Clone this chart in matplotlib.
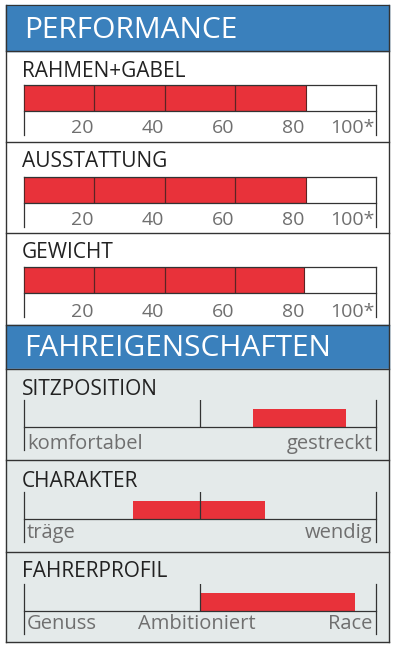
import matplotlib
matplotlib.use("Agg")
import matplotlib.pyplot as plt
from matplotlib.patches import Rectangle
from matplotlib import transforms

# --- data ---
perf_labels = ["RAHMEN+GABEL", "AUSSTATTUNG", "GEWICHT"]
perf_values = [80, 80, 79.5]
perf_ticks = [20, 40, 60, 80, 100]
perf_tick_labels = ["20", "40", "60", "80", "100*"]

fahr_labels = ["SITZPOSITION", "CHARAKTER", "FAHRERPROFIL"]
fahr_start = [65, 31, 50]
fahr_end = [91.5, 68.5, 94]
fahr_scale = [["komfortabel", "gestreckt"],
              ["träge", "wendig"],
              ["Genuss", "Ambitioniert", "Race"]]

BLUE = "#3a80bc"
RED = "#e8323a"
DIV = "#5a2424"
LINE = "#333333"
GRAY = "#6f6f6f"
BG = "#e4eaea"
FONT = "Open Sans"

W, H = 395, 645
fig = plt.figure(figsize=(W / 100, H / 100), dpi=100)
bg = fig.add_axes([0, 0, 1, 1])
bg.set_xlim(0, W)
bg.set_ylim(H, 0)
bg.axis("off")


def px_axes(x, y, w, h):
    return fig.add_axes([x / W, 1 - (y + h) / H, w / W, h / H])


X0, X1 = 24, 376

# frame, headers, background
bg.add_patch(Rectangle((6, 5), 383, 46, color=BLUE, zorder=0))
bg.add_patch(Rectangle((6, 325), 383, 44, color=BLUE, zorder=0))
bg.add_patch(Rectangle((6, 369), 383, 273, color=BG, zorder=0))
for y in [51, 142, 233, 325, 369, 460, 552, 642]:
    bg.plot([6, 389], [y, y], color=LINE, lw=1)
bg.plot([6, 6], [5, 642], color=LINE, lw=1)
bg.plot([389, 389], [5, 642], color=LINE, lw=1)
bg.plot([6, 389], [5, 5], color=LINE, lw=0.8)

bg.text(24, 38, "PERFORMANCE", color="white", fontsize=21.5, family=FONT, va="baseline")
bg.text(24, 356, "FAHREIGENSCHAFTEN", color="white", fontsize=21.5, family=FONT, va="baseline")

# performance rows
perf_title_y = [77, 167, 258]
perf_bar_top = [85, 177, 267]
perf_label_y = [133, 225, 317]
for i, lab in enumerate(perf_labels):
    bg.text(22, perf_title_y[i], lab, color="#222222", fontsize=15, family=FONT, va="baseline")
    ax = px_axes(X0, perf_bar_top[i], X1 - X0, 26)
    ax.set_xlim(0, 100)
    ax.set_ylim(0, 1)
    ax.axis("off")
    ax.barh(0, perf_values[i], height=1, left=0, align="edge", color=RED,
            edgecolor=DIV, lw=0.8)
    for t in perf_ticks[:-1]:
        if t < perf_values[i] - 1:
            ax.plot([t, t], [0, 1], color=DIV, lw=0.9)
    ax.plot([0, 100], [1, 1], color=LINE, lw=0.9, clip_on=False)
    ax.plot([0, 100], [0, 0], color=LINE, lw=0.9, clip_on=False)
    tr = transforms.blended_transform_factory(ax.transData, bg.transData)
    for xv in [0, 100]:
        bg.plot([xv, xv], [perf_bar_top[i], perf_bar_top[i] + 50], color=LINE,
                lw=0.9, transform=tr, clip_on=False)
    for t, tl in zip(perf_ticks, perf_tick_labels):
        bg.text(t - 0.3, perf_label_y[i], tl, color=GRAY, fontsize=14, family=FONT,
                ha="right", va="baseline", transform=tr)

# fahreigenschaften rows
fahr_title_y = [395, 487, 577]
fahr_top = [400, 492, 584]
fahr_label_y = [449, 538, 629]
for i, lab in enumerate(fahr_labels):
    bg.text(22, fahr_title_y[i], lab, color="#222222", fontsize=15, family=FONT, va="baseline")
    ax = px_axes(X0, fahr_top[i], X1 - X0, 27)
    ax.set_xlim(0, 100)
    ax.set_ylim(0, 1)
    ax.axis("off")
    ax.barh(0, fahr_end[i] - fahr_start[i], left=fahr_start[i], height=0.68,
            align="edge", color=RED, lw=0)
    ax.plot([0, 100], [0, 0], color=LINE, lw=0.9, clip_on=False)
    ax.plot([50, 50], [0, 1], color=LINE, lw=0.9)
    tr = transforms.blended_transform_factory(ax.transData, bg.transData)
    for xv in [0, 100]:
        bg.plot([xv, xv], [fahr_top[i], fahr_top[i] + 50], color=LINE,
                lw=0.9, transform=tr, clip_on=False)
    names = fahr_scale[i]
    bg.text(0.8, fahr_label_y[i], names[0], color=GRAY, fontsize=14.5, family=FONT,
            ha="left", va="baseline", transform=tr)
    bg.text(99, fahr_label_y[i], names[-1], color=GRAY, fontsize=14.5, family=FONT,
            ha="right", va="baseline", transform=tr)
    if len(names) == 3:
        bg.text(49, fahr_label_y[i], names[1], color=GRAY, fontsize=14.5, family=FONT,
                ha="center", va="baseline", transform=tr)

fig.savefig("out.png", dpi=100)
